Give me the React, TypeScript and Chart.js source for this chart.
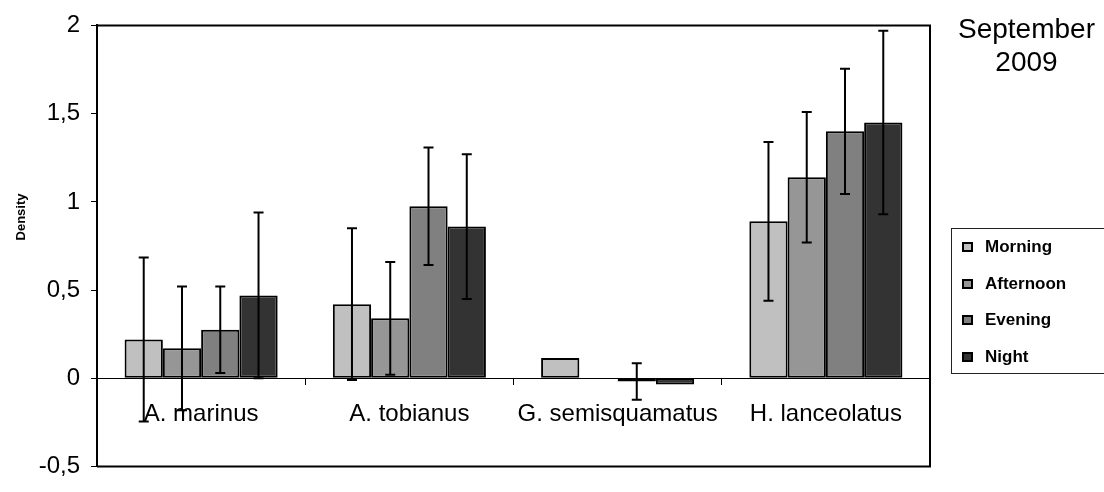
import React, { useEffect, useRef } from "react";
import { Chart, registerables } from "chart.js";

Chart.register(...registerables);

const categories = ["A. marinus", "A. tobianus", "G. semisquamatus", "H. lanceolatus"];
const seriesNames = ["Morning", "Afternoon", "Evening", "Night"];
const seriesColors = ["#c0c0c0", "#969696", "#808080", "#333333"];

const morning = [0.22, 0.42, 0.115, 0.89];
const afternoon = [0.17, 0.34, null, 1.14];
const evening = [0.275, 0.975, -0.018, 1.4];
const night = [0.47, 0.86, -0.035, 1.45];

const morningErr = [0.465, 0.43, null, 0.45];
const afternoonErr = [0.35, 0.32, null, 0.37];
const eveningErr = [0.245, 0.333, 0.103, 0.355];
const nightErr = [0.47, 0.41, null, 0.52];

const yMin = -0.5;
const yMax = 2;
const yStep = 0.5;
const yAxisTitle = "Density";
const titleLines = ["September", "2009"];

const FONT = "'Liberation Sans', Arial, sans-serif";

const errorBarPlugin = {
  id: "errorBars",
  afterDatasetsDraw(chart: any) {
    const ctx = chart.ctx;
    const yScale = chart.scales.y;
    chart.data.datasets.forEach((ds: any, i: number) => {
      const meta = chart.getDatasetMeta(i);
      meta.data.forEach((bar: any, j: number) => {
        const v = ds.data[j];
        const e = ds.errors ? ds.errors[j] : null;
        if (v == null || e == null) return;
        const x = bar.x;
        const yTop = yScale.getPixelForValue(v + e);
        const yBot = yScale.getPixelForValue(v - e);
        ctx.save();
        ctx.strokeStyle = "#000";
        ctx.lineWidth = 2;
        ctx.beginPath();
        ctx.moveTo(x, yTop);
        ctx.lineTo(x, yBot);
        ctx.moveTo(x - 5, yTop);
        ctx.lineTo(x + 5, yTop);
        ctx.moveTo(x - 5, yBot);
        ctx.lineTo(x + 5, yBot);
        ctx.stroke();
        ctx.restore();
      });
    });
  },
};

const framePlugin = {
  id: "frame",
  afterDraw(chart: any) {
    const { ctx, chartArea } = chart;
    ctx.save();
    ctx.strokeStyle = "#000";
    ctx.lineWidth = 2;
    ctx.beginPath();
    ctx.moveTo(chartArea.left, chartArea.top);
    ctx.lineTo(chartArea.right, chartArea.top);
    ctx.lineTo(chartArea.right, chartArea.bottom);
    ctx.lineTo(chartArea.left, chartArea.bottom);
    ctx.stroke();
    // y axis title
    ctx.translate(21, 217);
    ctx.rotate(-Math.PI / 2);
    ctx.fillStyle = "#000";
    ctx.font = `bold 13px ${FONT}`;
    ctx.textAlign = "center";
    ctx.textBaseline = "middle";
    ctx.fillText(yAxisTitle, 0, 0);
    ctx.restore();
  },
};

export default function App() {
  const canvasRef = useRef<HTMLCanvasElement | null>(null);

  useEffect(() => {
    const canvas = canvasRef.current;
    if (!canvas) return;
    const values = [morning, afternoon, evening, night];
    const errs = [morningErr, afternoonErr, eveningErr, nightErr];
    const chart = new Chart(canvas, {
      type: "bar",
      data: {
        labels: categories,
        datasets: seriesNames.map((name, i) => ({
          label: name,
          data: values[i],
          errors: errs[i],
          backgroundColor: seriesColors[i],
          borderColor: "#000",
          borderWidth: 2,
          borderSkipped: false,
          categoryPercentage: 0.735,
          barPercentage: 1,
        })) as any,
      },
      options: {
        responsive: false,
        animation: false,
        devicePixelRatio: 1,
        layout: { padding: { left: 0, top: 19, right: 174, bottom: 14 } },
        plugins: {
          legend: { display: false },
          tooltip: { enabled: false },
          title: { display: false },
        },
        scales: {
          x: {
            position: { y: 0 } as any,
            grid: {
              offset: true,
              drawOnChartArea: false,
              drawTicks: true,
              tickLength: 6,
              color: "#000",
              lineWidth: 1,
            },
            border: { display: true, color: "#000", width: 1 },
            ticks: {
              color: "#000",
              padding: 16,
              font: { family: FONT, size: 24 },
              maxRotation: 0,
              autoSkip: false,
            },
          },
          y: {
            min: yMin,
            max: yMax,
            afterFit(scale: any) {
              scale.width = 97;
            },
            grid: {
              drawOnChartArea: false,
              drawTicks: true,
              tickLength: 6,
              color: "#000",
              lineWidth: 1,
            },
            border: { display: true, color: "#000", width: 2 },
            ticks: {
              stepSize: yStep,
              color: "#000",
              padding: 11,
              font: { family: FONT, size: 24 },
              callback: (v: any) => String(Number(v)).replace(".", ","),
            },
          },
        },
      },
      plugins: [errorBarPlugin, framePlugin],
    });
    return () => chart.destroy();
  }, []);

  return (
    <div
      style={{
        position: "absolute",
        left: 0,
        top: 0,
        width: 1104,
        height: 492,
        overflow: "hidden",
        background: "#fff",
        fontFamily: FONT,
      }}
    >
      <canvas ref={canvasRef} width={1104} height={492} style={{ position: "absolute", left: 0, top: 0 }} />
      <div
        style={{
          position: "absolute",
          left: 946,
          top: 12,
          width: 161,
          textAlign: "center",
          fontSize: 28,
          lineHeight: "33px",
          color: "#000",
        }}
      >
        {titleLines.map((t) => (
          <div key={t}>{t}</div>
        ))}
      </div>
      <div
        style={{
          position: "absolute",
          left: 951,
          top: 228,
          width: 200,
          height: 146,
          border: "1.5px solid #222",
          boxSizing: "border-box",
        }}
      />
      {seriesNames.map((name, i) => {
        const cy = 247 + i * 36.7;
        return (
          <React.Fragment key={name}>
            <div
              style={{
                position: "absolute",
                left: 962,
                top: cy - 5,
                width: 11,
                height: 10,
                boxSizing: "border-box",
                border: "2px solid #000",
                background: seriesColors[i],
              }}
            />
            <div
              style={{
                position: "absolute",
                left: 985,
                top: cy - 10,
                fontSize: 17,
                fontWeight: "bold",
                lineHeight: "20px",
                color: "#000",
                whiteSpace: "nowrap",
              }}
            >
              {name}
            </div>
          </React.Fragment>
        );
      })}
    </div>
  );
}
